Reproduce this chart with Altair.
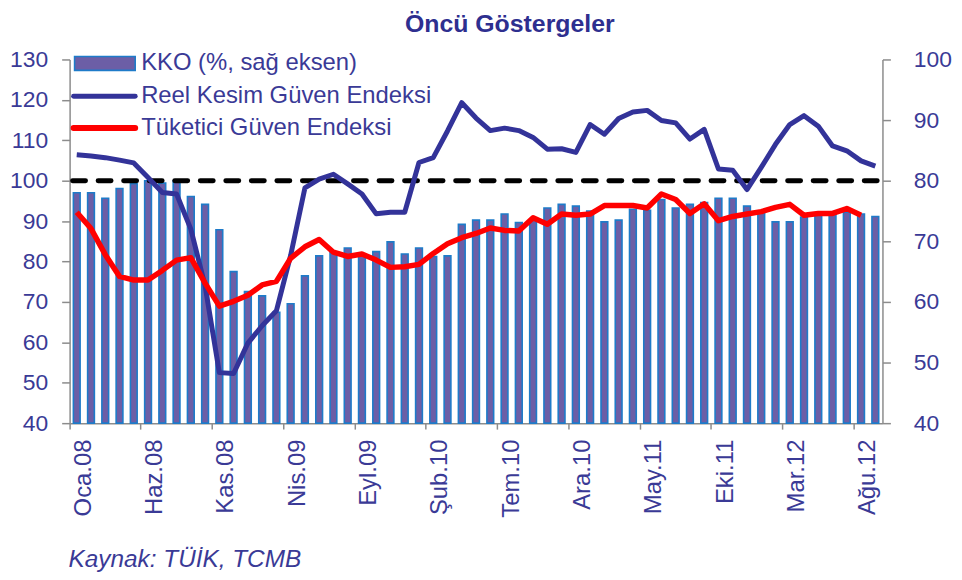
import altair as alt
import pandas as pd

# ---- data ----
month_names = ["Oca", "Şub", "Mar", "Nis", "May", "Haz", "Tem", "Ağu", "Eyl", "Eki", "Kas", "Ara"]
months = [f"{month_names[m]}.{y:02d}" for y in range(8, 13) for m in range(12)][:57]
tick_labels = ["Oca.08", "Haz.08", "Kas.08", "Nis.09", "Eyl.09", "Şub.10",
               "Tem.10", "Ara.10", "May.11", "Eki.11", "Mar.12", "Ağu.12"]

# KKO (%, right axis)
kko = [78.0, 78.0, 77.1, 78.7, 79.5, 80.0, 79.6, 80.0, 77.4, 76.1,
       71.9, 65.0, 61.7, 61.0, 58.3, 59.7, 64.3, 67.6, 68.1, 68.9,
       67.8, 68.3, 69.9, 67.9, 68.9, 67.5, 67.6, 72.8, 73.5, 73.5,
       74.5, 73.1, 73.5, 75.5, 76.1, 75.8, 75.0, 73.2, 73.5, 75.3,
       75.1, 76.9, 75.5, 76.1, 76.4, 77.1, 77.1, 75.8, 74.9, 73.2,
       73.2, 74.0, 74.5, 74.5, 74.8, 74.5, 74.1]

# Reel Kesim Güven Endeksi (left axis)
reel = [106.4, 106.1, 105.7, 105.1, 104.4, 100.8, 97.1, 96.7, 88.0, 74.0,
        52.5, 52.3, 59.8, 64.1, 67.8, 81.5, 98.2, 100.4, 101.6, 99.2,
        96.7, 91.8, 92.2, 92.2, 104.5, 105.7, 112.3, 119.3, 115.5, 112.4,
        113.0, 112.4, 110.7, 107.8, 107.9, 107.0, 113.9, 111.5, 115.4, 117.0,
        117.4, 114.9, 114.3, 110.3, 112.7, 102.9, 102.6, 97.8, 103.3, 109.0,
        113.9, 116.1, 113.5, 108.6, 107.4, 104.9, 103.6]

# Tüketici Güven Endeksi (right axis)
tuketici = [74.8, 72.1, 67.8, 64.2, 63.6, 63.6, 65.2, 66.9, 67.3, 63.1,
            59.3, 60.1, 61.1, 62.8, 63.4, 67.2, 69.1, 70.3, 68.2, 67.5,
            67.9, 66.9, 65.7, 65.8, 66.2, 68.0, 69.6, 70.6, 71.3, 72.2,
            71.8, 71.7, 73.9, 72.8, 74.5, 74.3, 74.5, 75.9, 75.9, 75.9,
            75.5, 77.8, 76.9, 74.6, 76.2, 73.4, 74.1, 74.5, 74.9, 75.6,
            76.1, 74.3, 74.6, 74.6, 75.4, 74.3, None]

reference_level = 100
axis_min_left, axis_max_left = 40, 130
axis_min_right, axis_max_right = 40, 100

left_ticks = list(range(40, 131, 10))
right_ticks = list(range(40, 101, 10))

df = pd.DataFrame({"month": months, "kko": kko, "reel": reel, "tuketici": tuketici})
one = pd.DataFrame({"a": [0]})

W, H = 818, 366
FONT = "Liberation Sans"
TXT = "#3A3A96"
AX = "#8C8C8C"
BAR_FILL = "#6C5EA6"
BAR_EDGE = "#1E7BC9"
BLUE = "#333399"
RED = "#FF0000"

x_enc = alt.X(
    "month:N", sort=months, title=None,
    scale=alt.Scale(paddingInner=0, paddingOuter=0),
    axis=alt.Axis(values=tick_labels, bandPosition=0, labelOffset=7.2, labelAngle=-90,
                  tickSize=6, tickColor=AX, tickWidth=1.5, domainColor=AX, domainWidth=1.5,
                  labelPadding=10, labelFont=FONT, labelFontSize=24, labelColor=TXT,
                  labelOverlap=False),
)

base = alt.Chart(df)

bars = base.mark_bar(width=6.8, fill=BAR_FILL, stroke=BAR_EDGE, strokeWidth=1.6).encode(
    x=x_enc,
    y=alt.Y("kko:Q", title=None,
            scale=alt.Scale(domain=[axis_min_right, axis_max_right], nice=False, zero=False),
            axis=alt.Axis(orient="right", values=right_ticks, tickSize=8, tickColor=AX,
                          tickWidth=1.5, domainColor=AX, domainWidth=1.5, labelPadding=23,
                          labelFont=FONT, labelFontSize=23, labelColor=TXT, grid=False)),
    y2=alt.Y2(datum=axis_min_right),
)

dash = alt.Chart(one).mark_rule(color="black", strokeWidth=5, strokeDash=[13, 12.7],
                                strokeCap="round").encode(
    x=alt.value(3), x2=alt.value(W),
    y=alt.Y(datum=reference_level,
            scale=alt.Scale(domain=[axis_min_left, axis_max_left], nice=False, zero=False),
            axis=None),
)

blue = base.mark_line(color=BLUE, strokeWidth=5, strokeJoin="round").encode(
    x=alt.X("month:N", sort=months),
    y=alt.Y("reel:Q", title=None,
            scale=alt.Scale(domain=[axis_min_left, axis_max_left], nice=False, zero=False),
            axis=alt.Axis(orient="left", values=left_ticks, tickSize=8, tickColor=AX,
                          tickWidth=1.5, domainColor=AX, domainWidth=1.5, labelPadding=14,
                          labelFont=FONT, labelFontSize=23, labelColor=TXT, grid=False)),
)

red = base.mark_line(color=RED, strokeWidth=5.5, strokeJoin="round").encode(
    x=alt.X("month:N", sort=months),
    y=alt.Y("tuketici:Q",
            scale=alt.Scale(domain=[axis_min_right, axis_max_right], nice=False, zero=False),
            axis=None),
)

# ---- legend, title, source (annotations) ----
leg_sw = alt.Chart(one).mark_rect(fill=BAR_FILL, stroke=BAR_EDGE, strokeWidth=1.6).encode(
    x=alt.value(5), x2=alt.value(66), y=alt.value(-3), y2=alt.value(11))
leg_blue = alt.Chart(one).mark_rule(color=BLUE, strokeWidth=5, strokeCap="round").encode(
    x=alt.value(4), x2=alt.value(66), y=alt.value(37))
leg_red = alt.Chart(one).mark_rule(color=RED, strokeWidth=6, strokeCap="round").encode(
    x=alt.value(4), x2=alt.value(66), y=alt.value(69))


def label(txt, x, y, size=24, **kw):
    return alt.Chart(one).mark_text(text=txt, align="left", baseline="middle", font=FONT,
                                    fontSize=size, color=TXT, **kw).encode(
        x=alt.value(x), y=alt.value(y))


leg_t1 = label("KKO (%, sağ eksen)", 72, 4)
leg_t2 = label("Reel Kesim Güven Endeksi", 72, 37)
leg_t3 = label("Tüketici Güven Endeksi", 72, 69)

title = alt.Chart(one).mark_text(text="Öncü Göstergeler", align="center", baseline="alphabetic",
                                 font=FONT, fontSize=25, fontWeight="bold", color="#2E2F8F").encode(
    x=alt.value(443), y=alt.value(-28))
source = alt.Chart(one).mark_text(text="Kaynak: TÜİK, TCMB", align="left", baseline="alphabetic",
                                  font=FONT, fontSize=24.5, fontStyle="italic", color=TXT).encode(
    x=alt.value(-1), y=alt.value(511))

chart = alt.layer(
    bars, dash, blue, red, leg_sw, leg_blue, leg_red, leg_t1, leg_t2, leg_t3, title, source
).resolve_scale(y="independent").properties(
    width=W, height=H,
    autosize=alt.AutoSizeParams(type="none"),
    padding={"left": 62, "top": 50, "right": 72, "bottom": 148},
).configure_view(stroke=None)

chart.save("out.html", embed_options={"renderer": "svg", "actions": False})
